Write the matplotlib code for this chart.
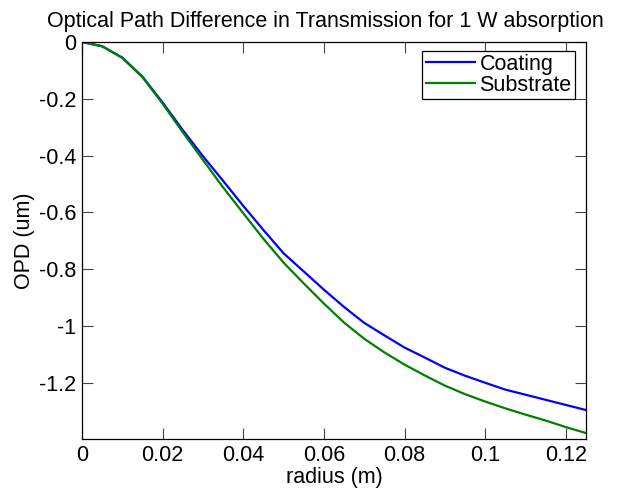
import matplotlib
matplotlib.use("Agg")
import matplotlib.pyplot as plt
import numpy as np

radius = [0.0, 0.005, 0.01, 0.015, 0.02, 0.025, 0.03, 0.035, 0.04, 0.045, 0.05,
          0.055, 0.06, 0.065, 0.07, 0.075, 0.08, 0.085, 0.09, 0.095, 0.1,
          0.105, 0.11, 0.115, 0.12, 0.125]
coating = [0.0, -0.015, -0.055, -0.122, -0.213, -0.310, -0.402, -0.489, -0.577, -0.662, -0.744,
           -0.808, -0.872, -0.933, -0.989, -1.033, -1.076, -1.111, -1.147, -1.175, -1.200,
           -1.224, -1.242, -1.260, -1.278, -1.296]
substrate = [0.0, -0.015, -0.056, -0.124, -0.217, -0.318, -0.415, -0.512, -0.603, -0.693, -0.777,
             -0.850, -0.921, -0.988, -1.045, -1.093, -1.136, -1.174, -1.210, -1.240, -1.266,
             -1.290, -1.312, -1.333, -1.356, -1.377]
xticks = [0, 0.02, 0.04, 0.06, 0.08, 0.1, 0.12]
xticklabels = ["0", "0.02", "0.04", "0.06", "0.08", "0.1", "0.12"]
yticks = [0, -0.2, -0.4, -0.6, -0.8, -1.0, -1.2]
yticklabels = ["0", "-0.2", "-0.4", "-0.6", "-0.8", "-1", "-1.2"]

plt.rcParams['font.family'] = ['Liberation Sans', 'DejaVu Sans']
fs = 15.5

fig = plt.figure(figsize=(6.21, 4.93), dpi=100)
ax = fig.add_axes([0.132, 0.1095, 0.8116, 0.8053])
ax.plot(radius, coating, color=(0, 0, 1), lw=1.6, label="Coating")
ax.plot(radius, substrate, color=(0, 0.5, 0), lw=1.6, label="Substrate")
ax.set_xlim(0, 0.125)
ax.set_ylim(-1.398, 0)
ax.set_xticks(xticks)
ax.set_xticklabels(xticklabels, fontsize=fs)
ax.set_yticks(yticks)
ax.set_yticklabels(yticklabels, fontsize=fs)
ax.tick_params(direction='in', length=8, width=0.8, top=True, right=True,
               color='#444444', pad=4)
for s in ax.spines.values():
    s.set_linewidth(0.9)
    s.set_color('black')
ax.set_xlabel("radius (m)", fontsize=fs, labelpad=1)
ax.set_ylabel("OPD (um)", fontsize=fs, labelpad=3)
ax.set_title("Optical Path Difference in Transmission for 1 W absorption", fontsize=fs,
             pad=11, x=0.483)
leg = ax.legend(loc='upper right', bbox_to_anchor=(0.978, 0.978), fontsize=fs,
                fancybox=False, edgecolor='black', framealpha=1, handlelength=2.3,
                borderaxespad=0.0, borderpad=0.15, labelspacing=0.0, handletextpad=0.2)
leg.get_frame().set_linewidth(0.9)
fig.savefig("out.png", dpi=100)
